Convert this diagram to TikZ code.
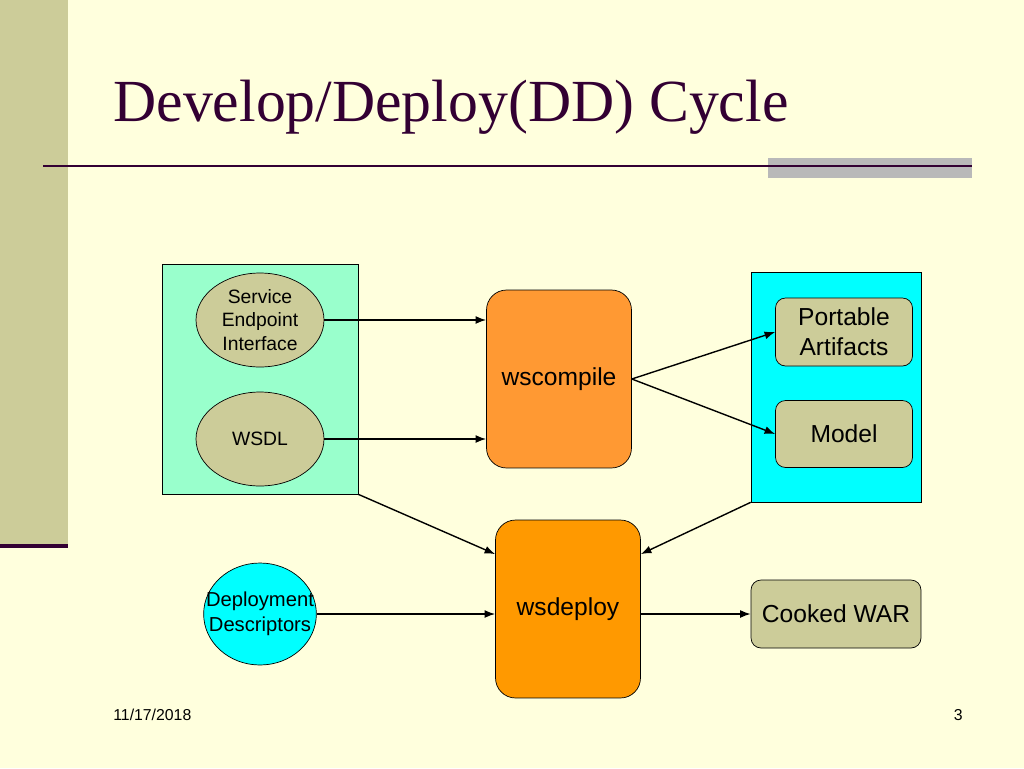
\documentclass[tikz,border=0pt]{standalone}
\usepackage{fontspec}
\setmainfont{Liberation Serif}
\setsansfont{Liberation Sans}
\usetikzlibrary{shapes,shapes.geometric,arrows.meta}
\definecolor{slidebg}{HTML}{FFFFDD}
\definecolor{sidebar}{HTML}{CCCC99}
\definecolor{maroon}{HTML}{330033}
\definecolor{mint}{HTML}{99FFCC}
\definecolor{tan}{HTML}{CCCC99}
\definecolor{aqua}{HTML}{00FFFF}
\definecolor{compileorange}{HTML}{FF9933}
\definecolor{deployorange}{HTML}{FF9900}
\tikzset{
  panel/.style={rectangle, draw, inner sep=0pt},
  tool/.style={rectangle, rounded corners=0.4cm, draw, inner sep=0pt, minimum width=2.9cm, minimum height=3.56cm, font=\sffamily\fontsize{14}{16}\selectfont},
  artifact/.style={rectangle, rounded corners=0.2cm, draw, fill=tan, inner sep=0pt, align=center, font=\sffamily\fontsize{14}{17}\selectfont},
  source/.style={ellipse, draw, fill=tan, inner sep=0pt, minimum width=2.56cm, minimum height=1.88cm, align=center, font=\sffamily\fontsize{11}{13.6}\selectfont},
  flow/.style={-{Latex[length=6pt,width=4.5pt]}, thick}
}
\begin{document}
\begin{tikzpicture}[x=0.02cm,y=-0.02cm]
       \useasboundingbox (0,0) rectangle (1024,768);
       \fill[slidebg] (0,0) rectangle (1024,768);
       \fill[sidebar] (0,0) rectangle (68,548);
       \fill[maroon] (0,544) rectangle (68,548);
       \fill[gray!55] (768,158) rectangle (972,178);
       \draw[maroon, line width=1.7pt] (43,166) -- (972,166);
       \node[anchor=base west, maroon, inner sep=0pt, font=\fontsize{34}{40}\selectfont] (title) at (113,121) {Develop/Deploy(DD) Cycle};

       \node[panel, fill=mint, minimum width=3.92cm, minimum height=4.6cm] (srcbox) at (260,379) {};
       \node[panel, fill=aqua, minimum width=3.4cm, minimum height=4.6cm] (outbox) at (836,387) {};

       \node[source] (sei) at (260,320) {Service\\Endpoint\\Interface};
       \node[source] (wsdl) at (260,439) {WSDL};
       \node[source, fill=aqua, inner xsep=-8pt, minimum width=2.08cm, minimum height=2.04cm, font=\sffamily\fontsize{11.5}{14}\selectfont] (dd) at (260,614) {Deployment\\Descriptors};

       \node[tool, fill=compileorange] (wsc) at (559,379) {wscompile};
       \node[tool, fill=deployorange] (wsd) at (568,609) {wsdeploy};

       \node[artifact, minimum width=2.74cm, minimum height=1.36cm] (pa) at (844,332) {Portable\\Artifacts};
       \node[artifact, minimum width=2.74cm, minimum height=1.34cm] (model) at (844,434) {Model};
       \node[artifact, minimum width=3.4cm, minimum height=1.36cm] (war) at (836,614) {Cooked WAR};

       \draw[flow] (sei.east) -- (sei.east -| wsc.west);
       \draw[flow] (wsdl.east) -- (wsdl.east -| wsc.west);
       \draw[flow] (wsc.east) -- (pa.west);
       \draw[flow] (wsc.east) -- (model.west);
       \draw[flow] (srcbox.south east) -- (wsd.143);
       \draw[flow] (outbox.south west) -- (wsd.37);
       \draw[flow] (dd.east) -- (dd.east -| wsd.west);
       \draw[flow] (wsd.east |- war.west) -- (war.west);

       \node[anchor=west, inner sep=0pt, font=\sffamily\fontsize{9}{10}\selectfont] (date) at (113,715) {11/17/2018};
       \node[anchor=east, inner sep=0pt, font=\sffamily\fontsize{9}{10}\selectfont] (page) at (963,715) {3};
      \end{tikzpicture}
\end{document}
